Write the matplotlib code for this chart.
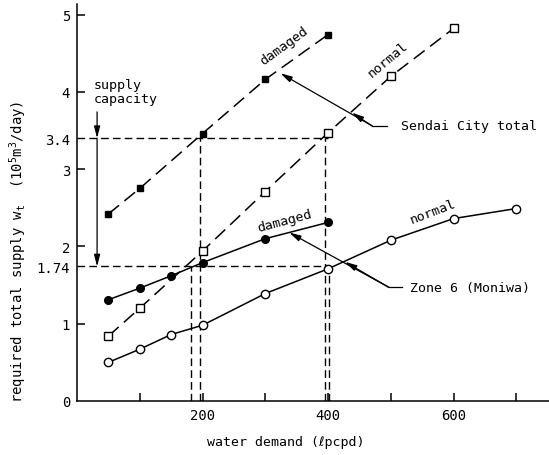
import matplotlib
matplotlib.use('Agg')
import matplotlib.pyplot as plt

plt.rcParams['font.family'] = ['DejaVu Sans Mono', 'DejaVu Sans']
plt.rcParams['mathtext.default'] = 'regular'

# ---- data ----
sendai_damaged_x = [50, 100, 200, 300, 400]
sendai_damaged_y = [2.42, 2.75, 3.46, 4.16, 4.74]
sendai_normal_x = [50, 100, 200, 300, 400, 500, 600]
sendai_normal_y = [0.84, 1.20, 1.94, 2.71, 3.47, 4.20, 4.82]
zone6_damaged_x = [50, 100, 150, 200, 300, 400]
zone6_damaged_y = [1.31, 1.46, 1.62, 1.79, 2.10, 2.31]
zone6_normal_x = [50, 100, 150, 200, 300, 400, 500, 600, 700]
zone6_normal_y = [0.50, 0.67, 0.86, 0.98, 1.39, 1.71, 2.08, 2.36, 2.49]

supply_sendai = 3.4
supply_zone6 = 1.74
sendai_cross_x = [196, 395]   # demand where Sendai curves reach 3.4
zone6_cross_x = [182, 401]    # demand where Zone 6 curves reach 1.74

y_ticks = [0, 1, 1.74, 2, 3, 3.4, 4, 5]
y_ticklabels = ['0', '1', '1.74', '2', '3', '3.4', '4', '5']
x_ticks = [100, 200, 300, 400, 500, 600, 700]
x_ticklabels = ['', '200', '', '400', '', '600', '']

FS = 9.5
fig = plt.figure(figsize=(5.49, 4.56), dpi=100)
ax = fig.add_axes([77/549, 1 - 402/456, 1 - 77/549, (402 - 5)/456])
ax.set_xlim(0, 752)
ax.set_ylim(0, (402 - 5)/77.3)

lw = 1.1
ax.plot(sendai_damaged_x, sendai_damaged_y, color='black', lw=lw, dashes=(9, 4.5),
        marker='s', ms=5, mfc='black', mec='black')
ax.plot(sendai_normal_x, sendai_normal_y, color='black', lw=lw, dashes=(9, 4.5),
        marker='s', ms=5.5, mfc='white', mec='black', mew=1)
ax.plot(zone6_damaged_x, zone6_damaged_y, color='black', lw=lw,
        marker='o', ms=5.5, mfc='black', mec='black')
ax.plot(zone6_normal_x, zone6_normal_y, color='black', lw=lw,
        marker='o', ms=6, mfc='white', mec='black', mew=1)

# supply reference lines
dash_ref = (5.5, 3)
ax.plot([0, 400], [supply_sendai, supply_sendai], color='black', lw=1, dashes=dash_ref, zorder=1)
ax.plot([0, 400], [supply_zone6, supply_zone6], color='black', lw=1, dashes=dash_ref, zorder=1)
for xv in sendai_cross_x:
    ax.plot([xv, xv], [0, supply_sendai], color='black', lw=1, dashes=dash_ref, zorder=1)
for xv in zone6_cross_x:
    ax.plot([xv, xv], [0, supply_zone6], color='black', lw=1, dashes=dash_ref, zorder=1)

# supply capacity arrows
arrow_kw = dict(arrowstyle='-|>,head_length=0.7,head_width=0.18', color='black', lw=0.9,
                shrinkA=0, shrinkB=0)
ax.annotate('', xy=(32, supply_sendai), xytext=(32, 3.74), arrowprops=arrow_kw)
ax.annotate('', xy=(32, supply_zone6), xytext=(32, supply_sendai), arrowprops=arrow_kw)
ax.text(27, 4.10, 'supply', fontsize=FS, ha='left', va='center')
ax.text(27, 3.91, 'capacity', fontsize=FS, ha='left', va='center')

# curve labels
ax.text(330, 4.60, 'damaged', fontsize=FS, rotation=36, ha='center', va='center')
ax.text(495, 4.42, 'normal', fontsize=FS, rotation=40, ha='center', va='center')
ax.text(331, 2.34, 'damaged', fontsize=FS, rotation=15, ha='center', va='center')
ax.text(567, 2.46, 'normal', fontsize=FS, rotation=21, ha='center', va='center')

# leader annotations
lead_kw = dict(arrowstyle='-|>,head_length=0.7,head_width=0.18', color='black', lw=0.9,
               shrinkA=0, shrinkB=0)
ax.plot([470, 494], [3.56, 3.56], color='black', lw=0.9)
ax.annotate('', xy=(324, 4.24), xytext=(470, 3.56), arrowprops=lead_kw)
ax.annotate('', xy=(438, 3.73), xytext=(470, 3.56), arrowprops=lead_kw)
ax.text(516, 3.56, 'Sendai City total', fontsize=FS, ha='left', va='center')

ax.plot([497, 518], [1.47, 1.47], color='black', lw=0.9)
ax.annotate('', xy=(338, 2.18), xytext=(497, 1.47), arrowprops=lead_kw)
ax.annotate('', xy=(427, 1.80), xytext=(497, 1.47), arrowprops=lead_kw)
ax.text(531, 1.47, 'Zone 6 (Moniwa)', fontsize=FS, ha='left', va='center')

# axes styling
for s in ['top', 'right']:
    ax.spines[s].set_visible(False)
ax.spines['left'].set_linewidth(1.1)
ax.spines['bottom'].set_linewidth(1.1)

ax.set_yticks(y_ticks)
ax.set_yticklabels(y_ticklabels, fontsize=10)
ax.set_xticks(x_ticks)
ax.set_xticklabels(x_ticklabels, fontsize=10)
ax.tick_params(axis='both', direction='in', length=6, width=1.1, pad=5)
for t, v in zip(ax.yaxis.get_major_ticks(), y_ticks):
    if v in (0, 1.74, 3.4):
        t.tick1line.set_visible(False)

ax.set_xlabel('water demand (\u2113pcpd)', fontsize=FS)
ax.set_ylabel('required total supply w$_t$  (10$^5$m$^3$/day)', fontsize=10)
ax.xaxis.label.set_va('center')
ax.yaxis.label.set_va('center')
ax.xaxis.set_label_coords((286 - 77)/(549 - 77), -(443 - 402)/397)
ax.yaxis.set_label_coords(-(77 - 18)/(549 - 77), (402 - 252)/397)

fig.savefig('out.png', dpi=100)
